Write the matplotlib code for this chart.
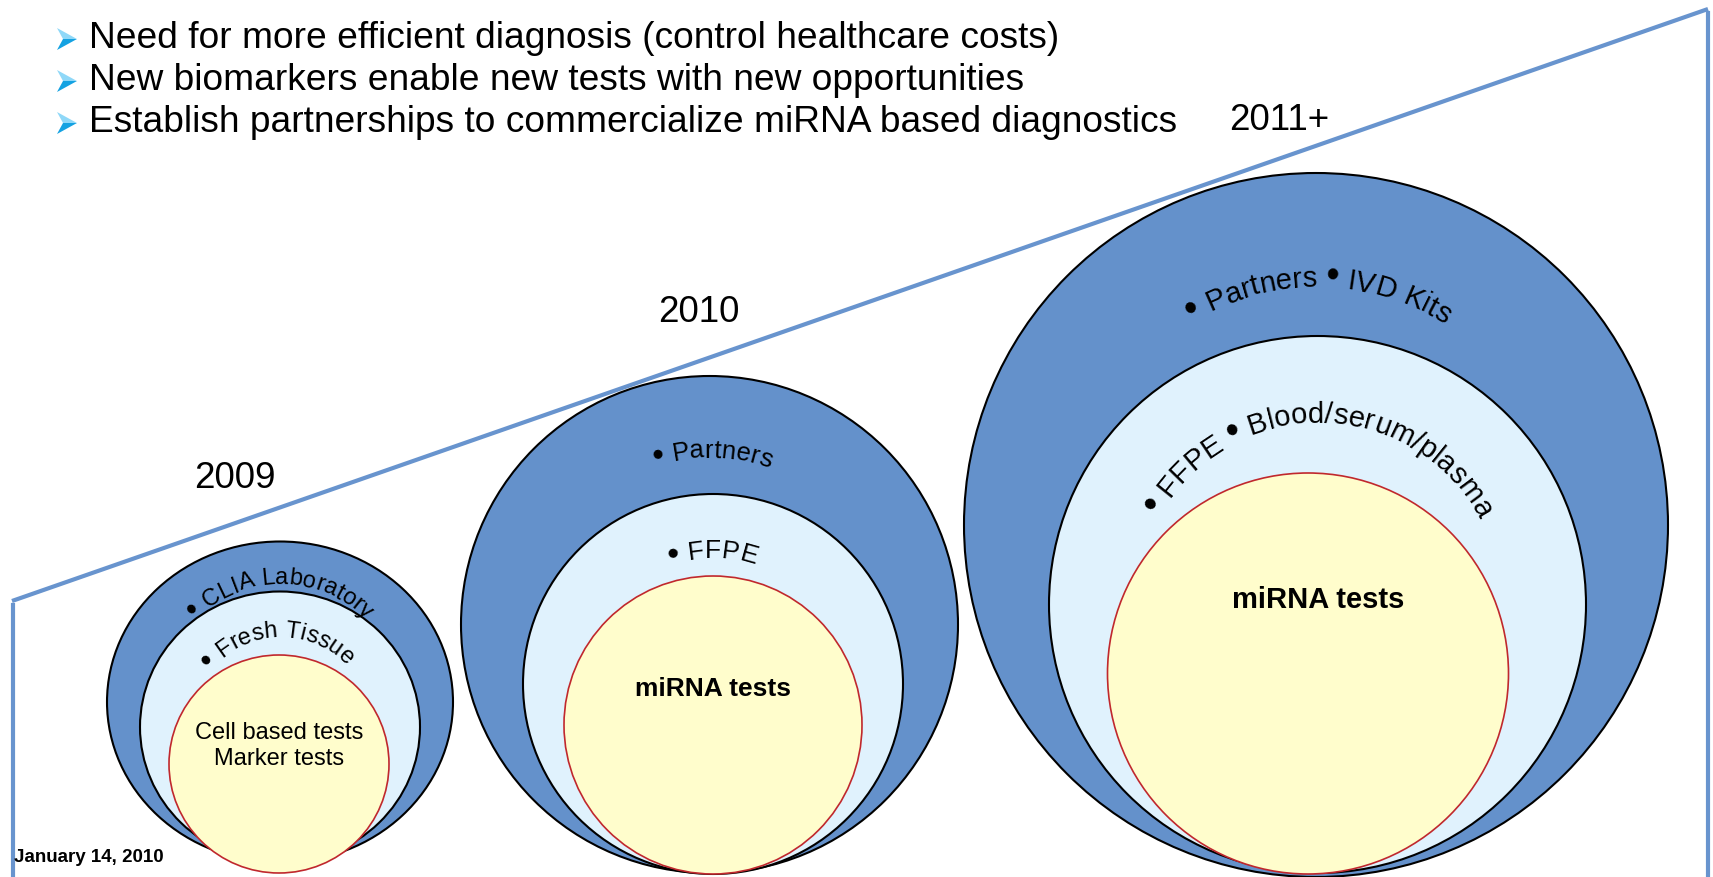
import numpy as np
import matplotlib
matplotlib.use("Agg")
import matplotlib.pyplot as plt
from matplotlib.patches import Ellipse, Polygon
from matplotlib.font_manager import findfont, FontProperties
from matplotlib.ft2font import FT2Font

# --- content -------------------------------------------------------------
bullets = [
    "Need for more efficient diagnosis (control healthcare costs)",
    "New biomarkers enable new tests with new opportunities",
    "Establish partnerships to commercialize miRNA based diagnostics",
]
years = ["2009", "2010", "2011+"]
outer_labels = ["• CLIA Laboratory", "• Partners", "• Partners • IVD Kits"]
middle_labels = ["• Fresh Tissue", "• FFPE", "• FFPE • Blood/serum/plasma"]
core_labels = ["Cell based tests\nMarker tests", "miRNA tests", "miRNA tests"]
core_bold = [False, True, True]
footer = "January 14, 2010"

# --- layout (pixel units, y down) ----------------------------------------
W, H = 1713, 877
# ellipses: (cx, cy, width, height)
outer_geo = [(280, 702, 346, 321), (709.5, 624.5, 497, 497), (1316, 525, 704, 704)]
middle_geo = [(280, 727, 280, 271), (713, 684, 380, 380), (1317.5, 604.5, 537, 537)]
core_geo = [(279, 764, 220, 218), (713, 725, 298, 298), (1308, 673.5, 401, 401)]
# arc text: (cx, cy, radius, mid angle, fontsize)
outer_arc = [(280, 703, 119, 89.8, 17), (709.5, 624.5, 167, 89.0, 18.5),
             (1316, 525, 238, 89.4, 21)]
middle_arc = [(280, 727, 90, 91.8, 17), (713, 684, 126, 90.0, 19),
              (1317.5, 604.5, 182, 89.3, 21)]
core_pos = [(279, 746, 17), (713, 689, 19), (1318, 600, 21)]
year_pos = [(235, 478), (699, 312), (1279, 121)]

BLUE = "#6491CB"
LIGHT = "#E0F2FD"
YELLOW = "#FFFDCC"
RED = "#C0282D"
LINE = "#6894CE"
FONT = "Liberation Sans"

fig = plt.figure(figsize=(W / 100, H / 100), dpi=100)
ax = fig.add_axes([0, 0, 1, 1])
ax.set_xlim(0, W)
ax.set_ylim(H, 0)
ax.axis("off")

font_path = findfont(FontProperties(family=FONT))
ft = FT2Font(font_path)


def advance(ch, size):
    ft.set_size(size, 100)
    g = ft.load_char(ord(ch))
    return g.linearHoriAdvance / 65536


def arc_text(s, cx, cy, r, mid, fs, bullet_scale=1.3):
    sizes = [fs * bullet_scale if c == "•" else fs for c in s]
    widths = [advance(c, z) for c, z in zip(s, sizes)]
    total = sum(widths)
    theta0 = np.radians(mid) + total / r / 2
    pos = 0.0
    for c, w, z in zip(s, widths, sizes):
        th = theta0 - (pos + w / 2) / r
        pos += w
        if c == " ":
            continue
        x = cx + r * np.cos(th)
        y = cy - r * np.sin(th)
        ax.text(x, y, c, fontsize=z, family=FONT, rotation=np.degrees(th) - 90,
                rotation_mode="anchor", ha="center", va="baseline", zorder=5)


def arrowhead(x, y):
    # 3D style arrowhead used as list marker
    tip, top, bot, notch = (x + 10, y), (x - 10, y - 11), (x - 10, y + 11), (x - 4, y)
    ax.add_patch(Polygon([tip, top, notch], closed=True, fc="#8FD8F8", ec="none"))
    ax.add_patch(Polygon([tip, notch, bot], closed=True, fc="#14A2E2", ec="none"))


# frame lines
ax.plot([12, 1708], [601, 9], color=LINE, lw=3, solid_capstyle="butt", zorder=1)
ax.plot([13, 13], [605, H], color=LINE, lw=3, zorder=1)
ax.plot([1708, 1708], [13, H], color=LINE, lw=3, zorder=1)

for i in range(3):
    cx, cy, w, h = outer_geo[i]
    ax.add_patch(Ellipse((cx, cy), w, h, fc=BLUE, ec="black", lw=1.5, zorder=2))
    cx, cy, w, h = middle_geo[i]
    ax.add_patch(Ellipse((cx, cy), w, h, fc=LIGHT, ec="black", lw=1.5, zorder=3))
    cx, cy, w, h = core_geo[i]
    ax.add_patch(Ellipse((cx, cy), w, h, fc=YELLOW, ec=RED, lw=1.2, zorder=4))

    arc_text(outer_labels[i], *outer_arc[i])
    arc_text(middle_labels[i], *middle_arc[i])

    x, y, fs = core_pos[i]
    ax.text(x, y, core_labels[i], fontsize=fs, family=FONT,
            fontweight="bold" if core_bold[i] else "normal",
            ha="center", va="center", linespacing=1.2, zorder=5)

    ax.text(*year_pos[i], years[i], fontsize=26.5, family=FONT,
            ha="center", va="center", zorder=5)

for k, b in enumerate(bullets):
    y = 38 + 42 * k
    arrowhead(67, y + 1)
    ax.text(89, y, b, fontsize=26.7, family=FONT, ha="left", va="center")

ax.text(14, 858, footer, fontsize=13.5, family=FONT, fontweight="bold",
        ha="left", va="center", zorder=6)

fig.savefig("out.png", dpi=100)
